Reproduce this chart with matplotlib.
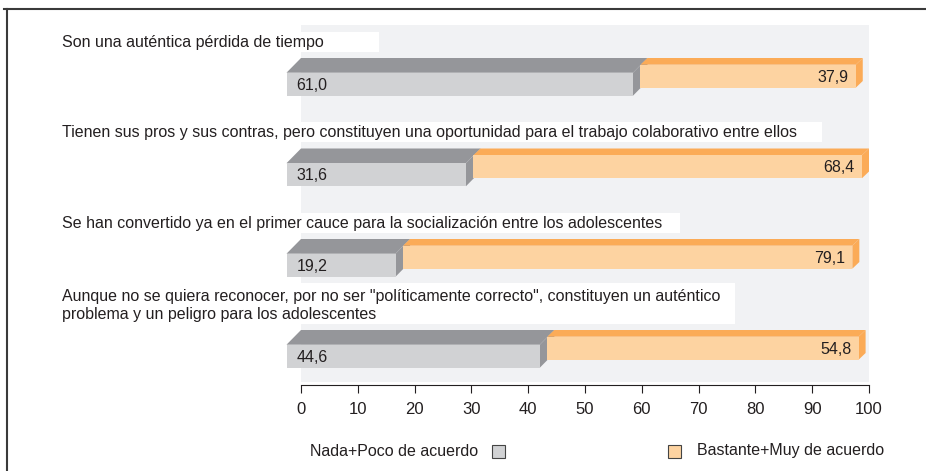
import matplotlib
matplotlib.use('Agg')
import matplotlib.pyplot as plt
from matplotlib.patches import Polygon, Rectangle
from matplotlib.lines import Line2D

# datos
etiquetas = ['Son una auténtica pérdida de tiempo',
             'Tienen sus pros y sus contras, pero constituyen una oportunidad para el trabajo colaborativo entre ellos',
             'Se han convertido ya en el primer cauce para la socialización entre los adolescentes',
             'Aunque no se quiera reconocer, por no ser "políticamente correcto", constituyen un auténtico\nproblema y un peligro para los adolescentes']
nada_poco = [61.0, 31.6, 19.2, 44.6]
bastante_muy = [37.9, 68.4, 79.1, 54.8]
ticks = list(range(0, 101, 10))
leyenda = ['Nada+Poco de acuerdo', 'Bastante+Muy de acuerdo']

# colores
gris_frente, gris_lado = '#d1d2d4', '#95969a'
nar_frente, nar_lado = '#fdd3a1', '#fbab57'
texto = '#231f20'

plt.rcParams['font.family'] = ['Liberation Sans', 'DejaVu Sans']

# disposicion en pixeles
W, H = 926, 471
x0px, x1px = 301, 869
ytop, ybot = 25, 382
esc = (x1px - x0px) / 100.0
filas_y = [58, 148.5, 239, 330]
caja_der = [379, 822, 680, 735]
alto = 23


def px(x):
    return (x - x0px) / esc


def caja3d(ax, x, w, y, h, dx, dy, c_frente, c_lado, z):
    arriba = Polygon([(x, y), (x + w, y), (x + w + dx, y + dy), (x + dx, y + dy)],
                     closed=True, fc=c_lado, ec='none', zorder=z, clip_on=False)
    lado = Polygon([(x + w, y), (x + w, y + h), (x + w + dx, y + h + dy), (x + w + dx, y + dy)],
                   closed=True, fc=c_lado, ec='none', zorder=z, clip_on=False)
    frente = Rectangle((x + dx, y + dy), w, h, fc=c_frente, ec='none', zorder=z + 0.5, clip_on=False)
    for p in (arriba, lado, frente):
        ax.add_patch(p)


fig = plt.figure(figsize=(W / 100, H / 100), dpi=100)
ax = fig.add_axes([x0px / W, 1 - ybot / H, (x1px - x0px) / W, (ybot - ytop) / H])
ax.set_xlim(0, 100)
ax.set_ylim(ybot, ytop)
ax.set_facecolor('#f1f2f4')

for i, (lab, g, o, y0) in enumerate(zip(etiquetas, nada_poco, bastante_muy, filas_y)):
    dos = '\n' in lab
    # caja blanca de la etiqueta
    sup = y0 - 6.5 - (41 if dos else 20)
    ax.add_patch(Rectangle((px(55), sup), px(caja_der[i]) - px(55), y0 - 6.5 - sup,
                           fc='white', ec='none', zorder=2, clip_on=False))
    ax.text(px(62), (sup + y0 - 6.5) / 2 + (2.5 if dos else 1), lab, fontsize=11.5, color=texto,
            ha='left', va='center', linespacing=1.2, zorder=3, clip_on=False)
    # barra gris
    dxg, dyg = -14.5 / esc, 14.7
    caja3d(ax, 0, g, y0, alto, dxg, dyg, gris_frente, gris_lado, 4)
    ax.text(dxg + 10 / esc, y0 + dyg + alto / 2 + 1, f'{g:.1f}'.replace('.', ','),
            fontsize=11.5, color=texto, ha='left', va='center', zorder=8, clip_on=False)
    # barra naranja
    dxo, dyo = -7 / esc, 6.7
    caja3d(ax, g, o, y0, alto, dxo, dyo, nar_frente, nar_lado, 6)
    ax.text(g + o + dxo - 7 / esc, y0 + dyo + alto / 2 + 1, f'{o:.1f}'.replace('.', ','),
            fontsize=11.5, color=texto, ha='right', va='center', zorder=8, clip_on=False)

for s in ['left', 'right', 'top']:
    ax.spines[s].set_visible(False)
ax.spines['bottom'].set_position(('outward', 2.2))
ax.spines['bottom'].set_color(texto)
ax.spines['bottom'].set_linewidth(0.8)
ax.set_yticks([])
ax.set_xticks(ticks)
ax.set_xticklabels([str(t) for t in ticks])
ax.tick_params(axis='x', direction='out', length=6, width=0.8, color=texto,
               pad=6, labelsize=12, labelcolor=texto)

# leyenda
fig.text(310 / W, 1 - 451 / H, leyenda[0], fontsize=11.5, color=texto, va='center', ha='left')
fig.add_artist(Rectangle((492 / W, 1 - 458 / H), 13 / W, 13 / H, transform=fig.transFigure,
                         fc=gris_frente, ec='#444444', lw=0.8))
fig.add_artist(Rectangle((668 / W, 1 - 458 / H), 13 / W, 13 / H, transform=fig.transFigure,
                         fc=nar_frente, ec='#444444', lw=0.8))
fig.text(697 / W, 1 - 451 / H, leyenda[1], fontsize=11.5, color=texto, va='center', ha='left')

# marco
fig.add_artist(Line2D([4 / W, 1], [1 - 9 / H, 1 - 9 / H], transform=fig.transFigure,
                      color='#3a3a3a', lw=1.5))
fig.add_artist(Line2D([7 / W, 7 / W], [0, 1 - 9 / H], transform=fig.transFigure,
                      color='#3a3a3a', lw=1.5))

fig.savefig('out.png', dpi=100)
